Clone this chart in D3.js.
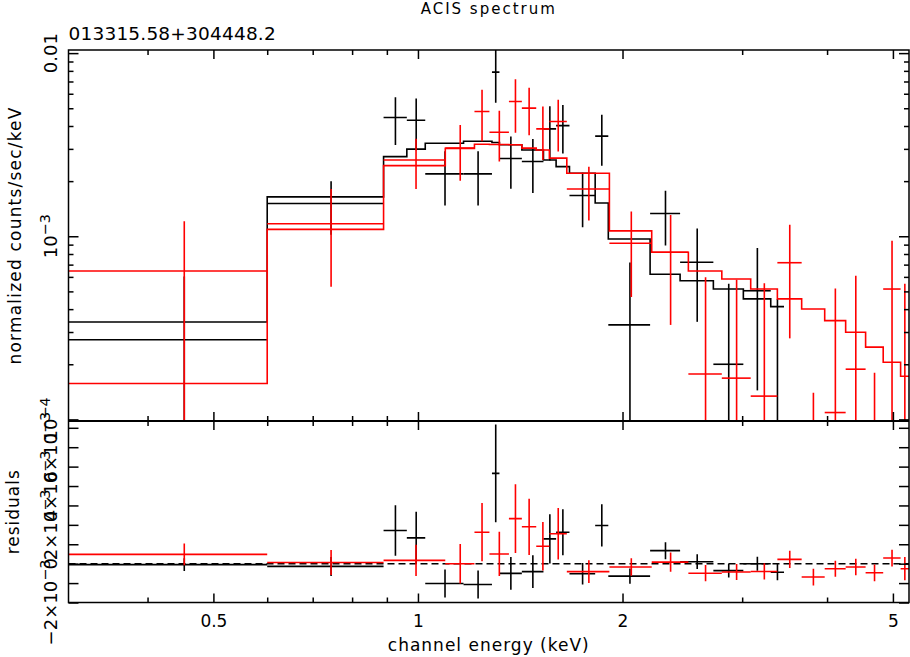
<!DOCTYPE html>
<html>
<head>
<meta charset="utf-8">
<script src="https://d3js.org/d3.v7.min.js"></script>
<style>
  body { margin: 0; background: #fff; }
  text { font-family: "DejaVu Sans", sans-serif; fill: #000; }
</style>
</head>
<body>
<div class="chart"></div>
<script>
var svgWidth = 910;
var svgHeight = 657;

// panel frame (pixels)
var frame = { left: 68.5, right: 909, top: 50, mid: 421, bottom: 602.5 };

// data set 1 (black): channel bin edges (keV), rate, error, model, residual
var blackEdges = [0.306, 0.600, 0.890, 0.963, 1.025, 1.167, 1.285, 1.318, 1.422, 1.530,
  1.597, 1.671, 1.823, 1.906, 2.196, 2.431, 2.721, 3.012, 3.305, 3.457];
var blackRate = [2.72e-4, 1.51e-3, 4.45e-3, 4.30e-3, 2.19e-3, 2.19e-3, 7.87e-3, 2.66e-3, 2.56e-3, 3.86e-3,
  4.02e-3, 1.67e-3, 3.52e-3, 3.28e-4, 1.33e-3, 7.21e-4, 2.00e-4, 5.04e-4, 3.5e-5];
var blackErr = [3.3e-4, 4.9e-4, 1.30e-3, 1.35e-3, 7.2e-4, 7.2e-4, 2.52e-3, 8.4e-4, 8.4e-4, 1.27e-3,
  1.19e-3, 5.5e-4, 1.09e-3, 3.9e-4, 4.4e-4, 3.8e-4, 3.5e-4, 3.6e-4, 4.2e-4];
var blackModel = [3.40e-4, 1.64e-3, 2.72e-3, 2.99e-3, 3.22e-3, 3.30e-3, 3.25e-3, 3.16e-3, 2.96e-3, 2.61e-3,
  2.40e-3, 2.21e-3, 1.52e-3, 9.67e-4, 6.20e-4, 5.72e-4, 5.15e-4, 4.55e-4, 4.13e-4];
var blackResid = [-5e-5, -1.4e-4, 1.71e-3, 1.33e-3, -1.02e-3, -1.07e-3, 4.65e-3, -5.0e-4, -4.1e-4, 1.28e-3,
  1.62e-3, -5.2e-4, 1.97e-3, -6.4e-4, 6.7e-4, 1.0e-4, -3.6e-4, 0, -4.4e-4];

// data set 2 (red)
var redEdges = [0.306, 0.600, 0.890, 1.097, 1.211, 1.274, 1.361, 1.422, 1.493, 1.561,
  1.656, 1.913, 2.208, 2.500, 2.800, 3.088, 3.380, 3.670, 3.968, 4.260, 4.558, 4.838, 5.132, 5.280];
var redRate = [6.46e-4, 1.17e-3, 2.61e-3, 3.03e-3, 4.80e-3, 3.70e-3, 5.44e-3, 5.01e-3, 3.86e-3, 4.23e-3,
  1.81e-3, 9.16e-4, 8.18e-4, 1.77e-4, 1.68e-4, 1.34e-4, 7.17e-4, -2.9e-4, 1.09e-4, 1.88e-4,
  -2.5e-4, 5.15e-4, -5e-5];
var redErr = [5.6e-4, 6.4e-4, 8.0e-4, 1.02e-3, 1.50e-3, 1.14e-3, 1.77e-3, 1.45e-3, 1.25e-3, 1.33e-3,
  5.9e-4, 4.5e-4, 4.9e-4, 4.2e-4, 4.1e-4, 4.2e-4, 4.4e-4, 4.3e-4, 4.1e-4, 4.2e-4,
  4.3e-4, 4.3e-4, 6.0e-4];
var redModel = [1.57e-4, 1.09e-3, 2.43e-3, 3.02e-3, 3.18e-3, 3.17e-3, 3.16e-3, 3.03e-3, 2.96e-3, 2.67e-3,
  2.21e-3, 1.07e-3, 8.18e-4, 6.46e-4, 5.84e-4, 5.15e-4, 4.55e-4, 4.01e-4, 3.46e-4, 2.99e-4,
  2.48e-4, 2.05e-4, 1.72e-4];
var redResid = [4.8e-4, 6e-5, 1.7e-4, 0, 1.62e-3, 5.0e-4, 2.32e-3, 1.90e-3, 9.0e-4, 1.54e-3,
  -4.1e-4, -1.7e-4, 8e-5, -4.9e-4, -4.3e-4, -4.0e-4, 2.2e-4, -6.9e-4, -2.6e-4, -1.7e-4,
  -4.7e-4, 2.9e-4, -2.6e-4];

// axis ticks and labels
var xTicksMajor = [0.5, 1, 2, 5];
var xTicksMinor = [0.4, 0.6, 0.7, 0.8, 0.9, 3, 4];
var yTopLabels = [0.01, 1e-3, 1e-4];
var residLabels = [-0.002, 0, 0.002, 0.004, 0.006];

var svg = d3.select(".chart")
  .append("svg")
  .attr("width", svgWidth)
  .attr("height", svgHeight);

// scales
var xScale = d3.scaleLog()
  .domain([0.306, 5.28])
  .range([frame.left, frame.right]);

var yTop = d3.scaleLog()
  .domain([9.8e-5, 0.0104])
  .range([frame.mid, frame.top]);

var yRes = d3.scaleLinear()
  .domain([-0.002, 0.00735])
  .range([frame.bottom, frame.mid]);

// clip areas for each panel
var defs = svg.append("defs");
defs.append("clipPath").attr("id", "clipTop")
  .append("rect")
  .attr("x", frame.left).attr("y", frame.top)
  .attr("width", frame.right - frame.left).attr("height", frame.mid - frame.top);
defs.append("clipPath").attr("id", "clipRes")
  .append("rect")
  .attr("x", frame.left).attr("y", frame.mid)
  .attr("width", frame.right - frame.left).attr("height", frame.bottom - frame.mid);

// log y can't take values <= 0, push those off the panel
function safeY(v) {
  return v > 0 ? yTop(v) : 2000;
}

function buildBins(edges, rate, err, model, resid) {
  return rate.map(function (r, i) {
    return { lo: edges[i], hi: edges[i + 1], rate: r, err: err[i], model: model[i], resid: resid[i] };
  });
}

var blackBins = buildBins(blackEdges, blackRate, blackErr, blackModel, blackResid);
var redBins = buildBins(redEdges, redRate, redErr, redModel, redResid);

var topGroup = svg.append("g").attr("clip-path", "url(#clipTop)");
var resGroup = svg.append("g").attr("clip-path", "url(#clipRes)");

// zero line in residual panel
resGroup.append("line")
  .attr("x1", frame.left).attr("x2", frame.right)
  .attr("y1", yRes(0)).attr("y2", yRes(0))
  .attr("stroke", "#000")
  .attr("stroke-width", 1.5)
  .attr("stroke-dasharray", "7,4");

var stepLine = d3.line()
  .x(d => xScale(d[0]))
  .y(d => yTop(d[1]))
  .curve(d3.curveStepAfter);

function drawSet(bins, color) {
  var mid = d => xScale((d.lo + d.hi) / 2);

  // spectrum crosses
  var pts = topGroup.append("g").attr("stroke", color).attr("stroke-width", 1.6);
  pts.selectAll(".xbar").data(bins).enter().append("line")
    .attr("x1", d => xScale(d.lo)).attr("x2", d => xScale(d.hi))
    .attr("y1", d => safeY(d.rate)).attr("y2", d => safeY(d.rate));
  pts.selectAll(".ybar").data(bins).enter().append("line")
    .attr("x1", mid).attr("x2", mid)
    .attr("y1", d => safeY(d.rate - d.err)).attr("y2", d => safeY(d.rate + d.err));

  // folded model histogram
  var steps = bins.map(d => [d.lo, d.model]);
  steps.push([bins[bins.length - 1].hi, bins[bins.length - 1].model]);
  topGroup.append("path")
    .datum(steps)
    .attr("d", stepLine)
    .attr("fill", "none")
    .attr("stroke", color)
    .attr("stroke-width", 1.6);

  // residual crosses
  var res = resGroup.append("g").attr("stroke", color).attr("stroke-width", 1.6);
  res.selectAll(".xbar").data(bins).enter().append("line")
    .attr("x1", d => xScale(d.lo)).attr("x2", d => xScale(d.hi))
    .attr("y1", d => yRes(d.resid)).attr("y2", d => yRes(d.resid));
  res.selectAll(".ybar").data(bins).enter().append("line")
    .attr("x1", mid).attr("x2", mid)
    .attr("y1", d => yRes(d.resid - d.err)).attr("y2", d => yRes(d.resid + d.err));
}

drawSet(blackBins, "#000");
drawSet(redBins, "#f00");

// ticks, all pointing into the panels
function addAxis(axis, tx, ty) {
  var g = svg.append("g")
    .attr("transform", `translate(${tx}, ${ty})`)
    .call(axis);
  g.select(".domain").remove();
  g.selectAll("line").attr("stroke", "#000").attr("stroke-width", 1.5);
  g.attr("font-family", "DejaVu Sans").attr("font-size", 17);
  return g;
}

[frame.top, frame.mid].forEach(function (yy) {
  addAxis(d3.axisTop(xScale).tickValues(xTicksMajor).tickSize(-9).tickFormat(""), 0, yy);
  addAxis(d3.axisTop(xScale).tickValues(xTicksMinor).tickSize(-5).tickFormat(""), 0, yy);
});
[frame.mid, frame.bottom].forEach(function (yy) {
  addAxis(d3.axisBottom(xScale).tickValues(xTicksMinor).tickSize(-5).tickFormat(""), 0, yy);
});
addAxis(d3.axisBottom(xScale).tickValues(xTicksMajor).tickSize(-9).tickFormat(""), 0, frame.mid);
addAxis(d3.axisBottom(xScale).tickValues(xTicksMajor).tickSize(-9).tickPadding(12)
  .tickFormat(d3.format("")), 0, frame.bottom);

var yAll = yTop.ticks();
var yMajor = yAll.filter(d => Math.abs(Math.log10(d) - Math.round(Math.log10(d))) < 1e-6);
var yMinor = yAll.filter(d => yMajor.indexOf(d) < 0);
addAxis(d3.axisLeft(yTop).tickValues(yMajor).tickSize(-10).tickFormat(""), frame.left, 0);
addAxis(d3.axisLeft(yTop).tickValues(yMinor).tickSize(-5).tickFormat(""), frame.left, 0);
addAxis(d3.axisRight(yTop).tickValues(yMajor).tickSize(-10).tickFormat(""), frame.right, 0);
addAxis(d3.axisRight(yTop).tickValues(yMinor).tickSize(-5).tickFormat(""), frame.right, 0);

var resTicks = yRes.ticks(10);
addAxis(d3.axisLeft(yRes).tickValues(resTicks).tickSize(-10).tickFormat(""), frame.left, 0);
addAxis(d3.axisRight(yRes).tickValues(resTicks).tickSize(-10).tickFormat(""), frame.right, 0);

// frames
svg.append("rect")
  .attr("x", frame.left).attr("y", frame.top)
  .attr("width", frame.right - frame.left).attr("height", frame.bottom - frame.top)
  .attr("fill", "none").attr("stroke", "#000").attr("stroke-width", 1.5);
svg.append("line")
  .attr("x1", frame.left).attr("x2", frame.right)
  .attr("y1", frame.mid).attr("y2", frame.mid)
  .attr("stroke", "#000").attr("stroke-width", 2);

// rotated y tick labels
function sciLabel(sel, mant, expo) {
  sel.append("tspan").text(mant);
  sel.append("tspan").attr("dy", "-0.5em").attr("font-size", "0.8em").text(expo);
}

svg.selectAll(".ytoplabel")
  .data(yTopLabels)
  .enter()
  .append("text")
  .attr("transform", d => `translate(57, ${yTop(d)}) rotate(-90)`)
  .attr("text-anchor", "middle")
  .attr("font-size", "18px")
  .each(function (d) {
    var t = d3.select(this);
    if (d === 0.01) t.text("0.01");
    else sciLabel(t, "10", "\u2212" + Math.round(-Math.log10(d)));
  });

svg.selectAll(".reslabel")
  .data(residLabels)
  .enter()
  .append("text")
  .attr("transform", d => `translate(57, ${yRes(d)}) rotate(-90)`)
  .attr("text-anchor", "middle")
  .attr("font-size", "18px")
  .each(function (d) {
    var t = d3.select(this);
    var m = Math.round(d / 1e-3);
    if (m === 0) t.text("0");
    else sciLabel(t, (m < 0 ? "\u2212" : "") + Math.abs(m) + "\u00d710", "\u22123");
  });

// titles
svg.append("text")
  .attr("x", (frame.left + frame.right) / 2)
  .attr("y", 14)
  .attr("text-anchor", "middle")
  .attr("font-size", "15px")
  .attr("letter-spacing", "2px")
  .text("ACIS spectrum");

svg.append("text")
  .attr("x", frame.left)
  .attr("y", 40)
  .attr("font-size", "18.5px")
  .attr("letter-spacing", "0.2px")
  .text("013315.58+304448.2");

svg.append("text")
  .attr("x", (frame.left + frame.right) / 2)
  .attr("y", 651)
  .attr("text-anchor", "middle")
  .attr("font-size", "17px")
  .attr("letter-spacing", "1px")
  .text("channel energy (keV)");

svg.append("text")
  .attr("transform", `translate(21, ${(frame.top + frame.mid) / 2}) rotate(-90)`)
  .attr("text-anchor", "middle")
  .attr("font-size", "17px")
  .attr("letter-spacing", "1.2px")
  .text("normalized counts/sec/keV");

svg.append("text")
  .attr("transform", `translate(19, ${(frame.mid + frame.bottom) / 2}) rotate(-90)`)
  .attr("text-anchor", "middle")
  .attr("font-size", "17px")
  .attr("letter-spacing", "1px")
  .text("residuals");
</script>
</body>
</html>
